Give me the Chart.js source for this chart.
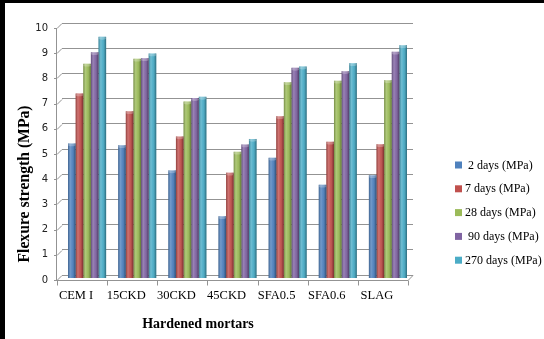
<!DOCTYPE html>
<html>
<head>
<meta charset="utf-8">
<script src="https://cdn.jsdelivr.net/npm/chart.js@4"></script>
<style>
  html, body { margin: 0; padding: 0; background: #fff; }
  #wrap { width: 544px; height: 339px; position: relative; background: #fff; }
  canvas { display: block; }
</style>
</head>
<body>
<div id="wrap"><canvas id="c" width="544" height="339"></canvas></div>
<script>
// Mortar mixes on the category axis
const categories = ['CEM I', '15CKD', '30CKD', '45CKD', 'SFA0.5', 'SFA0.6', 'SLAG'];

// Flexural strength (MPa) at each curing age
const days2   = [5.22, 5.15, 4.15, 2.33, 4.65, 3.58, 3.96];
const days7   = [7.20, 6.50, 5.50, 4.06, 6.30, 5.29, 5.19];
const days28  = [8.38, 8.58, 6.88, 4.89, 7.65, 7.71, 7.73];
const days90  = [8.84, 8.60, 7.02, 5.18, 8.22, 8.09, 8.86];
const days270 = [9.45, 8.79, 7.07, 5.40, 8.27, 8.40, 9.12];

const seriesNames = [' 2 days (MPa)', '7 days (MPa)', '28 days (MPa)', ' 90 days (MPa)', '270 days (MPa)'];
const seriesValues = [days2, days7, days28, days90, days270];
const seriesColors = ['#4F81BD', '#C0504D', '#9BBB59', '#8064A2', '#4BACC6'];

// Value axis ticks
const yTicks = [0, 1, 2, 3, 4, 5, 6, 7, 8, 9, 10];

const yTitle = 'Flexure strength (MPa)';
const xTitle = 'Hardened mortars';

// Oblique depth of the pseudo-3D box (front plane is shifted left/down)
const DEPTH_X = -5;
const DEPTH_Y = 5;

const GRID = '#939393';

// Draws the side wall edge, the floor and the category tick marks
const boxFrame = {
  id: 'boxFrame',
  beforeDatasetsDraw(chart) {
    const { ctx, chartArea: a, scales: { y } } = chart;
    ctx.save();
    ctx.strokeStyle = GRID;
    ctx.lineWidth = 1;
    const fx = a.left + DEPTH_X;
    // front vertical edge of the side wall
    ctx.beginPath();
    ctx.moveTo(fx - 0.5, y.getPixelForValue(10) + DEPTH_Y);
    ctx.lineTo(fx - 0.5, a.bottom + DEPTH_Y);
    ctx.stroke();
    // connectors from front tick marks to the back grid lines
    yTicks.forEach(v => {
      const py = Math.round(y.getPixelForValue(v)) + 0.5;
      ctx.beginPath();
      ctx.moveTo(fx - 3, py + DEPTH_Y);
      ctx.lineTo(fx, py + DEPTH_Y);
      ctx.lineTo(a.left, py);
      ctx.stroke();
    });
    // floor: front edge and right side edge
    const fy = Math.round(a.bottom + DEPTH_Y) + 0.5;
    const fr = a.right + DEPTH_X;
    ctx.beginPath();
    ctx.moveTo(fx, fy);
    ctx.lineTo(fr, fy);
    ctx.lineTo(a.right, Math.round(a.bottom) + 0.5);
    ctx.stroke();
    // category separators along the front edge
    const step = (a.right - a.left) / categories.length;
    for (let i = 0; i <= categories.length; i++) {
      const tx = Math.round(fx + step * i) + 0.5;
      ctx.beginPath();
      ctx.moveTo(tx, fy);
      ctx.lineTo(tx, fy + 5);
      ctx.stroke();
    }
    ctx.restore();
  }
};

// Cylindrical shading on each column
const columnShade = {
  id: 'columnShade',
  afterDatasetsDraw(chart) {
    const { ctx } = chart;
    ctx.save();
    chart.data.datasets.forEach((ds, di) => {
      const meta = chart.getDatasetMeta(di);
      meta.data.forEach(bar => {
        const { x, y, width, base } = bar.getProps(['x', 'y', 'width', 'base'], true);
        const l = x - width / 2;
        const g = ctx.createLinearGradient(l, 0, l + width, 0);
        g.addColorStop(0, 'rgba(0,0,0,0.25)');
        g.addColorStop(0.3, 'rgba(255,255,255,0.2)');
        g.addColorStop(0.55, 'rgba(255,255,255,0.05)');
        g.addColorStop(0.8, 'rgba(0,0,0,0.14)');
        g.addColorStop(1, 'rgba(0,0,0,0.38)');
        ctx.fillStyle = g;
        ctx.fillRect(l, y, width, base - y);
        // rounded cap
        ctx.fillStyle = 'rgba(255,255,255,0.25)';
        ctx.beginPath();
        ctx.ellipse(x, y + 1.2, width / 2, 1.6, 0, 0, Math.PI * 2);
        ctx.fill();
      });
    });
    ctx.restore();
  }
};

// Axis titles, legend and the outer frame
const decorations = {
  id: 'decorations',
  afterDraw(chart) {
    const { ctx } = chart;
    ctx.save();
    ctx.fillStyle = '#000';
    // y-axis title
    ctx.font = 'bold 15.7px "Liberation Serif"';
    ctx.textAlign = 'center';
    ctx.textBaseline = 'middle';
    ctx.translate(25, 184);
    ctx.rotate(-Math.PI / 2);
    ctx.fillText(yTitle, 0, 0);
    ctx.setTransform(1, 0, 0, 1, 0, 0);
    // x-axis title
    ctx.font = 'bold 14px "Liberation Serif"';
    ctx.fillText(xTitle, 198, 324);
    // legend
    ctx.font = '12px "Liberation Serif"';
    ctx.textAlign = 'left';
    seriesNames.forEach((name, i) => {
      const cy = 165 + i * 23.8;
      ctx.fillStyle = seriesColors[i];
      ctx.fillRect(455, cy - 3.5, 7, 7);
      ctx.fillStyle = '#000';
      ctx.fillText(name, 465, cy + 0.5);
    });
    // frame
    ctx.fillStyle = '#000';
    ctx.fillRect(0, 0, 544, 3);
    ctx.fillRect(0, 0, 5, 339);
    ctx.restore();
  }
};

new Chart(document.getElementById('c'), {
  type: 'bar',
  data: {
    labels: categories,
    datasets: seriesNames.map((name, i) => ({
      label: name,
      data: seriesValues[i],
      backgroundColor: seriesColors[i],
      base: -0.12,
      clip: false,
      borderWidth: 0
    }))
  },
  options: {
    responsive: false,
    devicePixelRatio: 1,
    animation: false,
    layout: { padding: { left: 0, top: 23, right: 131, bottom: 0 } },
    datasets: { bar: { categoryPercentage: 0.76, barPercentage: 1.0 } },
    plugins: {
      legend: { display: false },
      tooltip: { enabled: false }
    },
    scales: {
      x: {
        grid: { display: false, drawTicks: false },
        border: { display: false },
        ticks: {
          font: { family: 'Liberation Serif', size: 12.5 },
          color: '#000',
          padding: 13,
          labelOffset: -11,
          maxRotation: 0,
          autoSkip: false
        },
        afterFit(s) { s.height = 64; }
      },
      y: {
        min: 0,
        max: 10,
        afterBuildTicks(s) { s.ticks = yTicks.map(v => ({ value: v })); },
        grid: { color: GRID, lineWidth: 1, drawTicks: false },
        border: { display: false },
        ticks: {
          font: { family: 'DejaVu Sans', size: 10 },
          color: '#222',
          padding: 14,
          labelOffset: 5
        },
        afterFit(s) { s.width = 62; }
      }
    }
  },
  plugins: [boxFrame, columnShade, decorations]
});
</script>
</body>
</html>
